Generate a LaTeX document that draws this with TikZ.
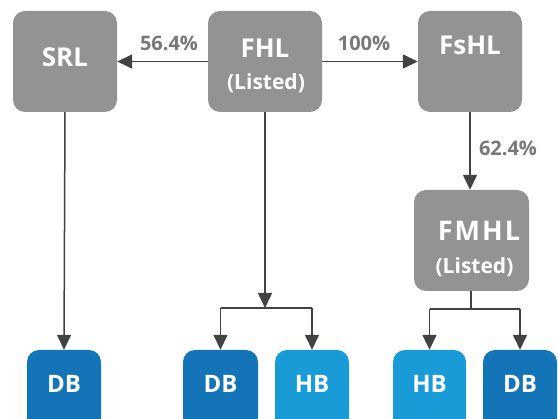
\documentclass[tikz,border=0pt]{standalone}
\usepackage{fontspec}
\setmainfont{Open Sans}
\usetikzlibrary{arrows.meta}
\definecolor{boxgray}{HTML}{939393}
\definecolor{dbblue}{HTML}{1474B8}
\definecolor{hbblue}{HTML}{199BD8}
\definecolor{lblgray}{HTML}{787878}
\definecolor{arrgray}{HTML}{424242}
\begin{document}
\begin{tikzpicture}[x=1pt,y=-1pt,
  graybox/.style={draw=none,fill=boxgray,rounded corners=12pt,inner sep=0pt},
  bluebox/.style={draw=none,rounded corners=12pt,inner sep=0pt,minimum width=74pt,minimum height=80pt},
  boxtxt/.style={text=white,font=\bfseries\fontsize{26}{28}\selectfont,inner sep=0pt},
  subtxt/.style={text=white,font=\bfseries\fontsize{21}{23}\selectfont,inner sep=0pt},
  pct/.style={text=lblgray,font=\bfseries\fontsize{20}{22}\selectfont,inner sep=0pt},
  conn/.style={draw=arrgray,line width=1.5pt},
  arr/.style={conn,-{Triangle[length=15pt,width=14pt]}}]
\useasboundingbox (0,0) rectangle (558,419);
\fill[white] (0,0) rectangle (558,419);
% top boxes
\node[graybox,minimum width=104pt,minimum height=101pt] (SRL) at (65,61.5) {};
\node[graybox,minimum width=114pt,minimum height=101pt] (FHL) at (265,61.5) {};
\node[graybox,minimum width=104pt,minimum height=101pt] (FsHL) at (470,61.5) {};
\node[graybox,minimum width=115pt,minimum height=101pt] (FMHL) at (471.5,240.5) {};
\node[boxtxt] (tSRL) at (65,57) {SRL};
\node[boxtxt] (tFHL) at (265,48) {FHL};
\node[subtxt] (tFHLs) at (266,83) {(Listed)};
\node[boxtxt] (tFsHL) at (470,45) {FsHL};
\node[boxtxt,font=\bfseries\fontsize{27}{29}\selectfont] (tFMHL) at (479,231) {F\kern2pt M\kern2pt H\kern2pt L};
\node[subtxt] (tFMHLs) at (474.5,267) {(Listed)};
% bottom boxes
\node[bluebox,fill=dbblue] (DB1) at (64,390) {};
\node[bluebox,fill=dbblue,minimum width=75pt] (DB2) at (220.5,390) {};
\node[bluebox,fill=hbblue] (HB2) at (312,390) {};
\node[bluebox,fill=hbblue,minimum width=73pt] (HB3) at (429.5,390) {};
\node[bluebox,fill=dbblue] (DB3) at (520,390) {};
\node[boxtxt,font=\bfseries\fontsize{24}{26}\selectfont] (tDB1) at (64,384) {DB};
\node[boxtxt,font=\bfseries\fontsize{24}{26}\selectfont] (tDB2) at (220.5,384) {DB};
\node[boxtxt,font=\bfseries\fontsize{24}{26}\selectfont] (tHB2) at (312,384) {HB};
\node[boxtxt,font=\bfseries\fontsize{24}{26}\selectfont] (tHB3) at (429.5,384) {HB};
\node[boxtxt,font=\bfseries\fontsize{24}{26}\selectfont] (tDB3) at (520,384) {DB};
% labels
\node[pct] (p1) at (169,43) {56.4\%};
\node[pct] (p2) at (364,43) {100\%};
\node[pct] (p3) at (508,148) {62.4\%};
% connectors
\draw[arr] (FHL.west) -- (SRL.east);
\draw[arr] (FHL.east) -- (FsHL.west);
\draw[arr] (FsHL.south) -- (FMHL.north -| FsHL.south);
\draw[arr] (SRL.south) -- (DB1.north);
\coordinate (j1) at (265,308);
\draw[arr] (FHL.south) -- (j1);
\draw[conn] (DB2.north |- j1) -- (HB2.north |- j1);
\draw[arr] (DB2.north |- j1) -- (DB2.north);
\draw[arr] (HB2.north |- j1) -- (HB2.north);
\coordinate (j2) at (471,309);
\draw[conn] (FMHL.south -| j2) -- (j2);
\draw[conn] (HB3.north |- j2) -- (DB3.north |- j2);
\draw[arr] (HB3.north |- j2) -- (HB3.north);
\draw[arr] (DB3.north |- j2) -- (DB3.north);
\end{tikzpicture}
\end{document}
